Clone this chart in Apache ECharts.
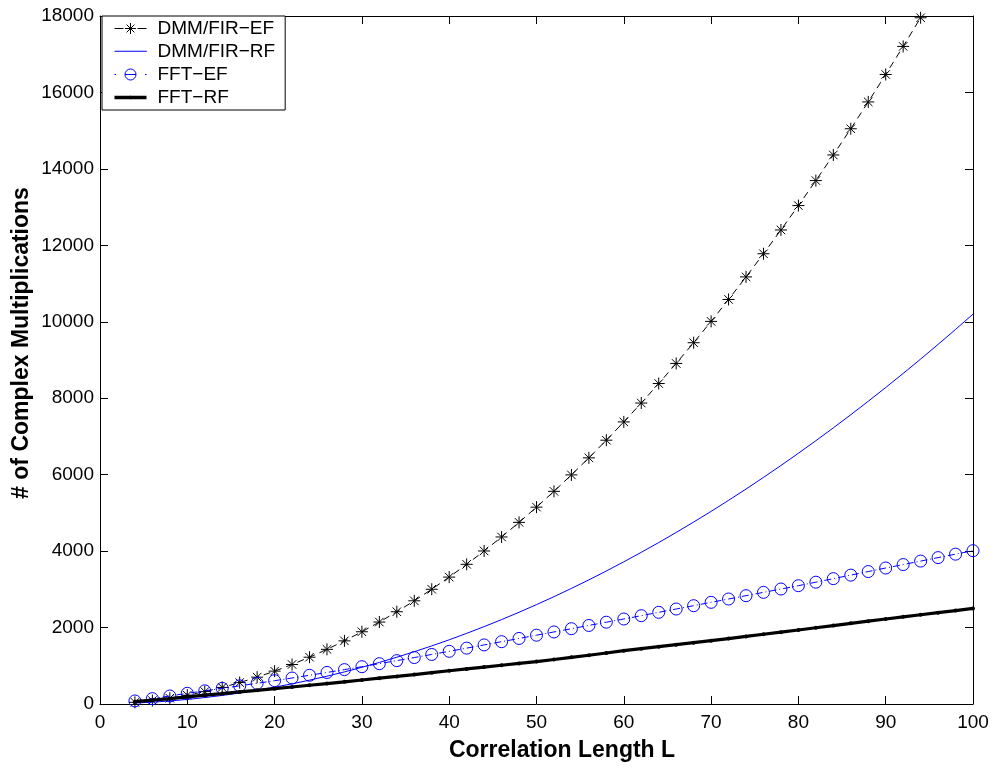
<!DOCTYPE html>
<html>
<head>
<meta charset="utf-8">
<title>Complex multiplications vs correlation length</title>
<script src="https://cdn.jsdelivr.net/npm/echarts@6/dist/echarts.min.js"></script>
<style>
  html, body { margin: 0; padding: 0; background: #fff; }
  #chart { width: 995px; height: 770px; }
</style>
</head>
<body>
<div id="chart"></div>
<script>
// Correlation lengths (even values 4..100)
const lengthL = [4, 6, 8, 10, 12, 14, 16, 18, 20, 22, 24, 26, 28, 30, 32, 34, 36, 38, 40, 42,
  44, 46, 48, 50, 52, 54, 56, 58, 60, 62, 64, 66, 68, 70, 72, 74, 76, 78, 80, 82,
  84, 86, 88, 90, 92, 94, 96, 98, 100];

// DMM/FIR-EF (values above the 18000 ceiling are not plotted)
const dmmFirEf = [44, 90, 152, 230, 324, 434, 560, 702, 860, 1034, 1224, 1430, 1652, 1890, 2144, 2414,
  2700, 3002, 3320, 3654, 4004, 4370, 4752, 5150, 5564, 5994, 6440, 6902, 7380, 7874, 8384, 8910,
  9452, 10010, 10584, 11174, 11780, 12402, 13040, 13694, 14364, 15050, 15752, 16470, 17204, 17954];

// DMM/FIR-RF
const dmmFirRf = [24, 48, 80, 120, 168, 224, 288, 360, 440, 528, 624, 728, 840, 960, 1088, 1224,
  1368, 1520, 1680, 1848, 2024, 2208, 2400, 2600, 2808, 3024, 3248, 3480, 3720, 3968, 4224, 4488,
  4760, 5040, 5328, 5624, 5928, 6240, 6560, 6888, 7224, 7568, 7920, 8280, 8648, 9024, 9408, 9800, 10200];

// FFT-EF
const fftEf = [80, 140, 210, 280, 345, 410, 475, 542, 610, 680, 752, 825, 900, 976, 1055, 1135,
  1215, 1296, 1378, 1462, 1546, 1630, 1715, 1800, 1885, 1970, 2055, 2140, 2224, 2311, 2398, 2485,
  2572, 2660, 2747, 2834, 2921, 3008, 3095, 3187, 3280, 3372, 3465, 3558, 3648, 3739, 3830, 3920, 4011];

// FFT-RF
const fftRf = [60, 100, 140, 185, 230, 272, 315, 357, 400, 445, 490, 535, 580, 628, 675, 722,
  770, 820, 870, 918, 966, 1014, 1062, 1110, 1165, 1220, 1275, 1335, 1395, 1448, 1500, 1552,
  1604, 1656, 1712, 1768, 1824, 1880, 1936, 1994, 2052, 2110, 2167, 2224, 2280, 2335, 2390, 2445, 2500];

const seriesNames = ['DMM/FIR\u2212EF', 'DMM/FIR\u2212RF', 'FFT\u2212EF', 'FFT\u2212RF'];
const xTicks = { min: 0, max: 100, step: 10 };
const yTicks = { min: 0, max: 18000, step: 2000 };

const FONT = "'Liberation Sans', Arial, Helvetica, sans-serif";
const BLUE = '#0000ff';
const ASTERISK = 'path://M5 0L5 10M0 5L10 5M1.46 1.46L8.54 8.54M8.54 1.46L1.46 8.54';

// Legend glyphs (32 px wide): line sample with the marker in the middle
const ICON_EF_DMM = 'path://M0 7H9M23 7H32M16 1.5V12.5M10.5 7H21.5M12.1 3.1L19.9 10.9M19.9 3.1L12.1 10.9';
const ICON_RF_DMM = 'path://M0 7H32L32 7.5';
const ICON_EF_FFT = 'path://M0 7H1.5M30.5 7H32M21.5 7A5.5 5.5 0 1 1 10.5 7A5.5 5.5 0 1 1 21.5 7M10.5 7H21.5';
const ICON_RF_FFT = 'path://M0 5.3H32V8.7H0ZM18 7A2 2 0 1 1 14 7A2 2 0 1 1 18 7Z';

function pairs(values) {
  return values.map((v, i) => [lengthL[i], v]);
}

const chart = echarts.init(document.getElementById('chart'), null, { renderer: 'canvas' });

const axisLine = { show: true, onZero: false, lineStyle: { color: '#000', width: 1 } };
const tickIn = { show: true, inside: true, length: 8, lineStyle: { color: '#000', width: 1 } };
const plainNumber = v => String(v);

chart.setOption({
  animation: false,
  backgroundColor: '#fff',
  grid: { left: 100, right: 22, top: 16, bottom: 66, containLabel: false },
  xAxis: [
    {
      type: 'value', position: 'bottom',
      min: xTicks.min, max: xTicks.max, interval: xTicks.step,
      axisLine: axisLine, axisTick: tickIn, splitLine: { show: false },
      axisLabel: { color: '#000', fontSize: 19, fontFamily: FONT, margin: 9, formatter: plainNumber }
    },
    {
      type: 'value', position: 'top',
      min: xTicks.min, max: xTicks.max, interval: xTicks.step,
      axisLine: axisLine, axisTick: tickIn, splitLine: { show: false },
      axisLabel: { show: false }
    }
  ],
  yAxis: [
    {
      type: 'value', position: 'left',
      min: yTicks.min, max: yTicks.max, interval: yTicks.step,
      axisLine: axisLine, axisTick: tickIn, splitLine: { show: false },
      axisLabel: { color: '#000', fontSize: 19, fontFamily: FONT, margin: 6, formatter: plainNumber }
    },
    {
      type: 'value', position: 'right',
      min: yTicks.min, max: yTicks.max, interval: yTicks.step,
      axisLine: axisLine, axisTick: tickIn, splitLine: { show: false },
      axisLabel: { show: false }
    }
  ],
  legend: {
    orient: 'vertical', left: 102, top: 16,
    backgroundColor: '#fff', borderColor: '#000', borderWidth: 1, borderRadius: 0,
    padding: [3, 10, 3, 10],
    itemWidth: 32, itemHeight: 14, itemGap: 4,
    symbolKeepAspect: true,
    textStyle: { color: '#000', fontSize: 19, fontFamily: FONT, padding: [0, 0, 0, 6] },
    data: [
      { name: seriesNames[0], icon: ICON_EF_DMM, itemStyle: { color: 'none', borderColor: '#000', borderWidth: 1 } },
      { name: seriesNames[1], icon: ICON_RF_DMM, itemStyle: { color: 'none', borderColor: BLUE, borderWidth: 1 } },
      { name: seriesNames[2], icon: ICON_EF_FFT, itemStyle: { color: 'none', borderColor: BLUE, borderWidth: 1 } },
      { name: seriesNames[3], icon: ICON_RF_FFT, itemStyle: { color: '#000', borderColor: '#000', borderWidth: 0 } }
    ]
  },
  graphic: [
    {
      type: 'text', x: 562, y: 751,
      style: {
        text: 'Correlation Length L', font: "bold 23px " + FONT,
        fill: '#000', textAlign: 'center', textVerticalAlign: 'middle'
      }
    },
    {
      type: 'text', x: 22, y: 343, rotation: Math.PI / 2,
      style: {
        text: '# of Complex Multiplications', font: "bold 23px " + FONT,
        fill: '#000', textAlign: 'center', textVerticalAlign: 'middle'
      }
    }
  ],
  series: [
    {
      name: seriesNames[0], type: 'line', data: pairs(dmmFirEf),
      symbol: ASTERISK, symbolSize: 12, showAllSymbol: true,
      itemStyle: { color: 'none', borderColor: '#000', borderWidth: 1 },
      lineStyle: { color: '#000', width: 1, type: [7, 5] },
      emphasis: { disabled: true }, z: 2
    },
    {
      name: seriesNames[1], type: 'line', data: pairs(dmmFirRf),
      symbol: 'none', showSymbol: false,
      itemStyle: { color: BLUE },
      lineStyle: { color: BLUE, width: 1 },
      emphasis: { disabled: true }, z: 3
    },
    {
      name: seriesNames[2], type: 'line', data: pairs(fftEf),
      symbol: 'circle', symbolSize: 12, showAllSymbol: true,
      itemStyle: { color: 'none', borderColor: BLUE, borderWidth: 1 },
      lineStyle: { color: BLUE, width: 1, type: [7, 3, 1, 3] },
      emphasis: { disabled: true }, z: 4
    },
    {
      name: seriesNames[3], type: 'line', data: pairs(fftRf),
      symbol: 'circle', symbolSize: 4, showAllSymbol: true,
      itemStyle: { color: '#000' },
      lineStyle: { color: '#000', width: 3.2 },
      emphasis: { disabled: true }, z: 5
    }
  ]
});
</script>
</body>
</html>
